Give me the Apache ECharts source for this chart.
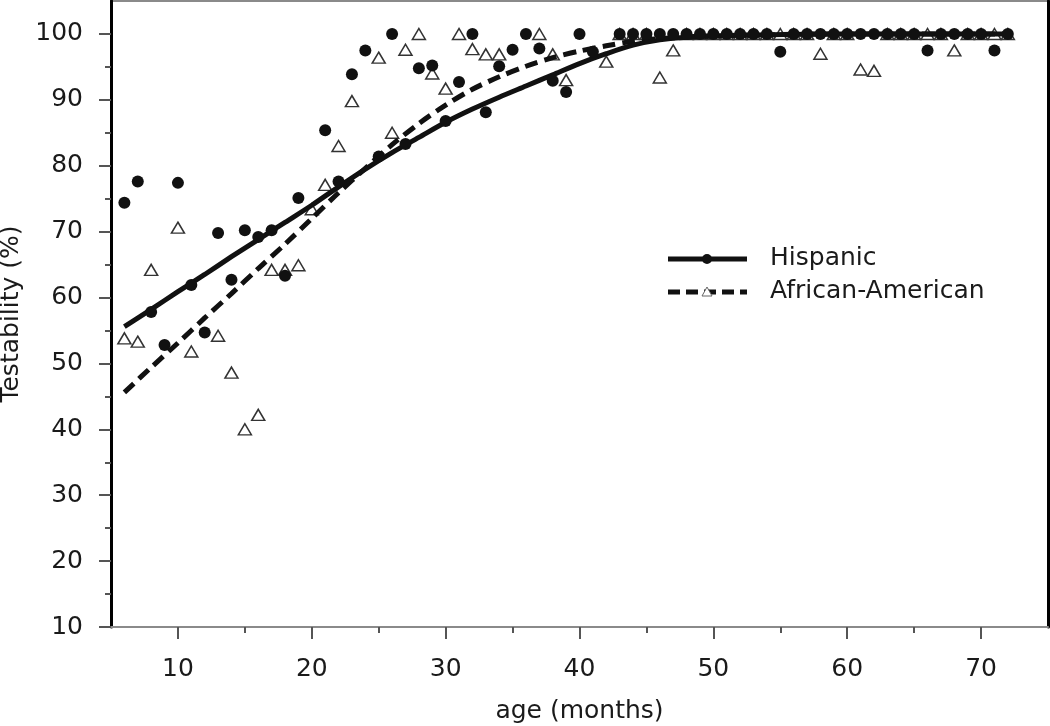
<!DOCTYPE html>
<html>
<head>
<meta charset="utf-8">
<script src="https://cdn.jsdelivr.net/npm/echarts@6/dist/echarts.min.js"></script>
<style>
  html, body { margin: 0; padding: 0; background: #fff; }
  #chart { width: 1050px; height: 726px; }
</style>
</head>
<body>
<div id="chart"></div>
<script>
// ---- data ----
const hispAge = [6,7,8,9,10,11,12,13,14,15,16,17,18,19,21,22,23,24,25,26,27,28,29,30,31,32,33,34,35,36,37,38,39,40,41,
  43,44,45,46,47,48,49,50,51,52,53,54,55,56,57,58,59,60,61,62,63,64,65,66,67,68,69,70,71,72];
const hispPct = [74.4,77.6,57.8,52.8,77.4,61.9,54.7,69.8,62.7,70.2,69.2,70.2,63.3,75.1,85.4,77.6,93.9,97.5,81.4,100,83.3,94.8,95.2,86.8,92.7,100,88.1,95.1,97.6,100,97.8,92.9,91.2,100,97.3,
  100,100,100,100,100,100,100,100,100,100,100,100,97.3,100,100,100,100,100,100,100,100,100,100,97.5,100,100,100,100,97.5,100];

const aaAge = [6,7,8,10,11,13,14,15,16,17,18,19,20,21,22,23,25,26,27,28,29,30,31,32,33,34,37,38,39,42,
  43,44,45,46,47,48,49,50,51,52,53,54,55,56,57,58,59,60,61,62,63,64,65,66,67,68,69,70,71,72];
const aaPct = [53.8,53.3,64.2,70.6,51.8,54.2,48.6,40.0,42.2,64.2,64.2,64.9,73.4,77.1,83.0,89.8,96.4,85.0,97.6,100,94.0,91.7,100,97.7,96.9,96.9,100,96.9,93.0,95.8,
  100,100,100,93.4,97.5,100,100,100,100,100,100,100,100,100,100,97.0,100,100,94.6,94.4,100,100,100,100,100,97.5,100,100,100,100];

// fitted curves
const hispFitAge = [6,8,10,12,14,16,18,20,22,24,26,28,30,32,34,36,38,40,42,44,46,48,52,60,72];
const hispFitPct = [55.6,58.2,60.9,63.5,66.2,68.8,71.4,74.0,76.8,79.5,82.0,84.3,86.6,88.6,90.4,92.1,93.8,95.5,97.0,98.3,99.1,99.5,99.8,100,100];
const aaFitAge = [6,8,10,12,14,16,18,20,22,24,26,28,30,32,34,36,38,40,42,44,46,50,60,72];
const aaFitPct = [45.6,49.4,53.1,56.9,60.6,64.4,68.1,72.0,75.9,79.6,83.2,86.4,89.2,91.6,93.5,95.1,96.4,97.4,98.2,98.9,99.3,99.7,100,100];

// axes
const xTicks = [10,20,30,40,50,60,70];
const xMinorTicks = [15,25,35,45,55,65];
const yTicks = [10,20,30,40,50,60,70,80,90,100];
const yMinorTicks = [15,25,35,45,55,65,75,85,95];
const seriesNames = ['Hispanic', 'African-American'];
const xTitle = 'age (months)';
const yTitle = 'Testability (%)';

const pairs = (a, b) => a.map((v, i) => [v, b[i]]);

const FONT = 'DejaVu Sans';
const TXT = '#1a1a1a';

const chart = echarts.init(document.getElementById('chart'), null, { renderer: 'canvas' });

const option = {
  animation: false,
  backgroundColor: '#fff',
  textStyle: { fontFamily: FONT },
  grid: {
    left: 111, right: 2, top: 1, bottom: 99,
    containLabel: false, outerBoundsMode: 'none',
    show: true, borderColor: '#8a8a8a', borderWidth: 2, backgroundColor: '#fff'
  },
  xAxis: [
    {
      type: 'value', min: 5, max: 75, position: 'bottom',
      name: xTitle, nameLocation: 'middle', nameGap: 72,
      nameTextStyle: { fontSize: 25, color: TXT, fontFamily: FONT },
      axisLine: { show: true, lineStyle: { color: '#8a8a8a', width: 2 } },
      axisTick: { show: true, inside: false, length: 12, customValues: xTicks, lineStyle: { color: '#555', width: 2 } },
      axisLabel: { show: true, margin: 30, fontSize: 25, color: TXT, fontFamily: FONT, customValues: xTicks, verticalAlign: 'top' },
      splitLine: { show: false }
    },
    {
      type: 'value', min: 5, max: 75, position: 'bottom', gridIndex: 0,
      axisLine: { show: false },
      axisTick: { show: true, inside: false, length: 6, customValues: xMinorTicks, lineStyle: { color: '#555', width: 2 } },
      axisLabel: { show: false },
      splitLine: { show: false }
    }
  ],
  yAxis: [
    {
      type: 'value', min: 10, max: 105, position: 'left',
      name: yTitle, nameLocation: 'middle', nameGap: 84,
      nameTextStyle: { fontSize: 25, color: TXT, fontFamily: FONT },
      axisLine: { show: true, lineStyle: { color: '#000', width: 3 } },
      axisTick: { show: true, inside: false, length: 12, customValues: yTicks, lineStyle: { color: '#555', width: 2 } },
      axisLabel: { show: true, margin: 28, fontSize: 25, color: TXT, fontFamily: FONT, customValues: yTicks },
      splitLine: { show: false }
    },
    {
      type: 'value', min: 10, max: 105, position: 'left',
      axisLine: { show: false },
      axisTick: { show: true, inside: false, length: 6, customValues: yMinorTicks, lineStyle: { color: '#555', width: 2 } },
      axisLabel: { show: false },
      splitLine: { show: false }
    },
    {
      type: 'value', min: 10, max: 105, position: 'right',
      axisLine: { show: true, lineStyle: { color: '#000', width: 3 } },
      axisTick: { show: false },
      axisLabel: { show: false },
      splitLine: { show: false }
    }
  ],
  series: [
    {
      name: seriesNames[1] + ' data', type: 'scatter', z: 2,
      data: pairs(aaAge, aaPct),
      symbol: 'triangle', symbolSize: [13, 11],
      itemStyle: { color: '#fff', borderColor: '#333', borderWidth: 1.5, opacity: 1 }
    },
    {
      name: seriesNames[1], type: 'line', z: 3, smooth: 0.3,
      data: pairs(aaFitAge, aaFitPct), symbol: 'none',
      lineStyle: { color: '#111', width: 5, type: [13, 7], cap: 'butt' }
    },
    {
      name: seriesNames[0], type: 'line', z: 4, smooth: 0.3,
      data: pairs(hispFitAge, hispFitPct), symbol: 'none',
      lineStyle: { color: '#111', width: 5 }
    },
    {
      name: seriesNames[0] + ' data', type: 'scatter', z: 5,
      data: pairs(hispAge, hispPct),
      symbol: 'circle', symbolSize: 12,
      itemStyle: { color: '#111', opacity: 1 }
    }
  ],
  graphic: [
    { type: 'line', shape: { x1: 668, y1: 259, x2: 747, y2: 259 }, style: { stroke: '#111', lineWidth: 5 } },
    { type: 'circle', shape: { cx: 707, cy: 259, r: 5 }, style: { fill: '#111' } },
    { type: 'line', shape: { x1: 668, y1: 292, x2: 747, y2: 292 }, style: { stroke: '#111', lineWidth: 5, lineDash: [12, 6] } },
    { type: 'polygon', shape: { points: [[707, 287], [702, 296], [712, 296]] }, style: { fill: '#fff', stroke: '#666', lineWidth: 1 } },
    { type: 'text', left: 770, top: 246, style: { text: seriesNames[0], font: '25px "DejaVu Sans"', fill: TXT } },
    { type: 'text', left: 770, top: 279, style: { text: seriesNames[1], font: '25px "DejaVu Sans"', fill: TXT } }
  ]
};

chart.setOption(option);
</script>
</body>
</html>
